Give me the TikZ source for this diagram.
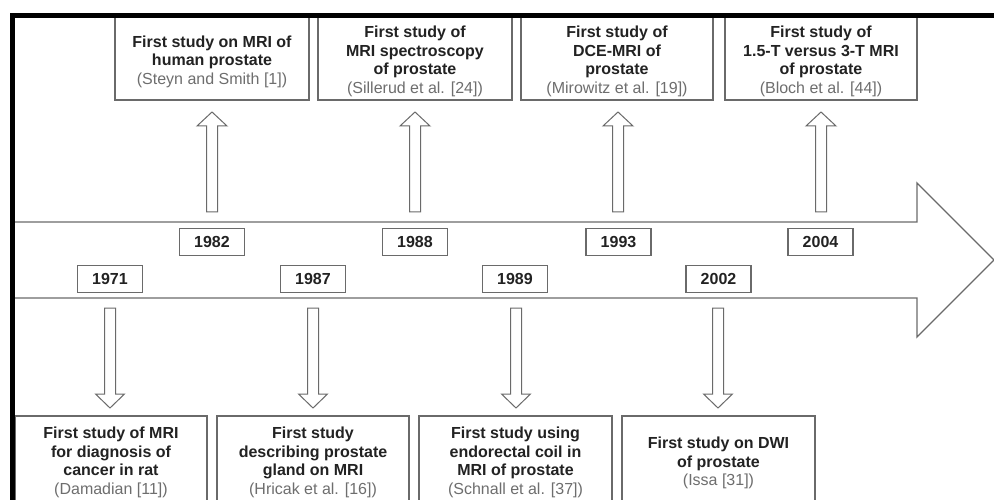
\documentclass[tikz,border=0pt]{standalone}
\usepackage{fontspec}
\setmainfont{Liberation Sans}
\definecolor{linegray}{HTML}{6A6A6A}
\definecolor{textdark}{HTML}{222222}
\definecolor{textcite}{HTML}{6E6E6E}
\tikzset{
  evbox/.style={draw=linegray, line width=1.2pt, inner sep=0pt},
  evtext/.style={align=center, text=textdark, font=\fontsize{16}{18.5}\selectfont\bfseries, inner sep=0pt},
  yearbox/.style={draw=linegray, line width=1.2pt, minimum width=65pt, minimum height=27pt, inner sep=0pt,
                  text=textdark, font=\fontsize{16}{18.5}\selectfont\bfseries},
  blockarrow/.style={draw=linegray, line width=1pt, fill=white},
  bigarrow/.style={draw=linegray, line width=1.4pt},
  frame/.style={draw=black, line width=4.5pt, line join=miter}
}
\newcommand{\refcite}[1]{{\mdseries\color{textcite}#1}}
\begin{document}
\begin{tikzpicture}[x=1pt,y=-1pt]
\useasboundingbox (0,0) rectangle (994,500);
\clip (0,0) rectangle (994,500);
\fill[white] (0,0) rectangle (994,500);

% big timeline arrow
\coordinate (tip) at (994,260);
\draw[bigarrow] (15,222) -- (917,222) -- (917,183) -- (tip) -- (917,337) -- (917,298) -- (15,298);

% top event boxes (tops run under the frame)
\node[evbox, minimum width=194pt, minimum height=86pt] (E1) at (212,57) {};
\node[evbox, minimum width=194pt, minimum height=86pt] (E2) at (415,57) {};
\node[evbox, minimum width=192pt, minimum height=86pt] (E3) at (617,57) {};
\node[evbox, minimum width=192pt, minimum height=86pt] (E4) at (821,57) {};
\node[evtext] (T1) at (212,61.5) {First study on MRI of\\human prostate\\\refcite{(Steyn and Smith [1])}};
\node[evtext] (T2) at (415,61.5) {First study of\\MRI spectroscopy\\of prostate\\\refcite{(Sillerud et al. [24])}};
\node[evtext] (T3) at (617,61.5) {First study of\\DCE-MRI of\\prostate\\\refcite{(Mirowitz et al. [19])}};
\node[evtext] (T4) at (821,61.5) {First study of\\1.5-T versus 3-T MRI\\of prostate\\\refcite{(Bloch et al. [44])}};

% bottom event boxes
\node[evbox, minimum width=192pt, minimum height=100pt] (B1) at (111,466) {};
\node[evbox, minimum width=192pt, minimum height=100pt] (B2) at (313,466) {};
\node[evbox, minimum width=193pt, minimum height=100pt] (B3) at (515.5,466) {};
\node[evbox, minimum width=193pt, minimum height=100pt] (B4) at (718.5,466) {};
\node[evtext] (U1) at (111,462.5) {First study of MRI\\for diagnosis of\\cancer in rat\\\refcite{(Damadian [11])}};
\node[evtext] (U2) at (313,462.5) {First study\\describing prostate\\gland on MRI\\\refcite{(Hricak et al. [16])}};
\node[evtext] (U3) at (515.5,462.5) {First study using\\endorectal coil in\\MRI of prostate\\\refcite{(Schnall et al. [37])}};
\node[evtext] (U4) at (718.5,463) {First study on DWI\\of prostate\\\refcite{(Issa [31])}};

% year boxes
\node[yearbox] (Y82) at (212,242) {1982};
\node[yearbox] (Y88) at (415,242) {1988};
\node[yearbox] (Y93) at (618.5,242) {1993};
\node[yearbox] (Y04) at (820.5,242) {2004};
\node[yearbox] (Y71) at (110,279) {1971};
\node[yearbox] (Y87) at (313,279) {1987};
\node[yearbox] (Y89) at (515,279) {1989};
\node[yearbox] (Y02) at (718.5,279) {2002};

% up block arrows (year -> event above)
\foreach \x in {212,415,618,821}{
  \draw[blockarrow] (\x-5.5,212) -- (\x-5.5,126) -- (\x-15,126) -- (\x,112)
        -- (\x+15,126) -- (\x+5.5,126) -- (\x+5.5,212) -- cycle;
}
% down block arrows (year -> event below)
\foreach \x in {110,313,516,718}{
  \draw[blockarrow] (\x-5.5,308) -- (\x-5.5,394) -- (\x-14.5,394) -- (\x,408)
        -- (\x+14.5,394) -- (\x+5.5,394) -- (\x+5.5,308) -- cycle;
}

% frame
\draw[frame] (12.5,520) -- (12.5,15.3) -- (1010,15.3);
\end{tikzpicture}
\end{document}
